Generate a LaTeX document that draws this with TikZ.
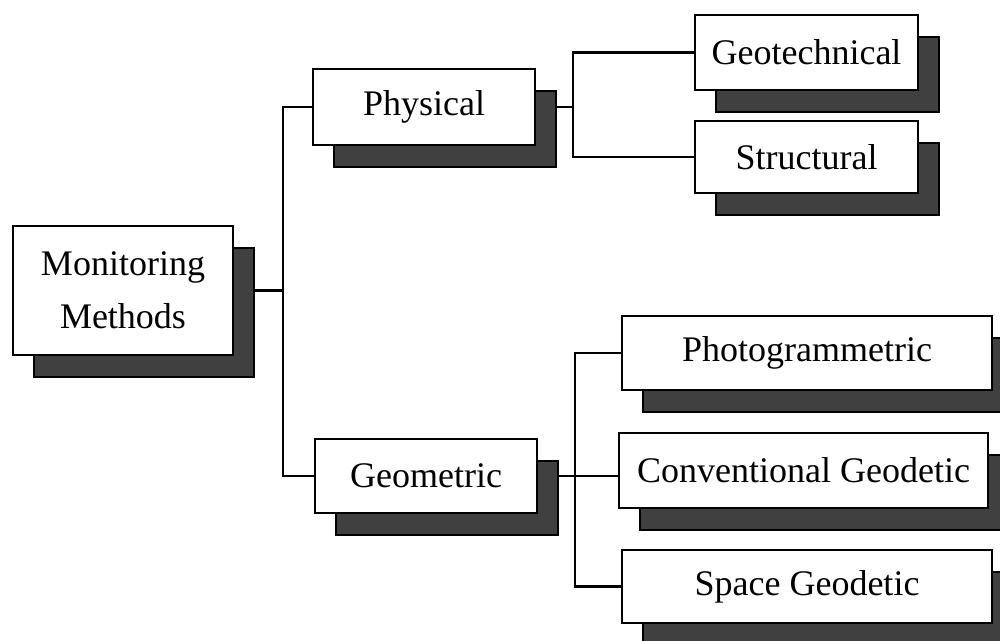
\documentclass[tikz,border=0pt]{standalone}
\usepackage{fontspec}
\setmainfont{Liberation Serif}
\usetikzlibrary{shadows,backgrounds}
\definecolor{shade}{gray}{0.25}
\tikzset{
  every picture/.style={x=0.5pt,y=-0.5pt},
  box/.style={draw=black, line width=1.2pt, fill=white, inner sep=0pt,
    font=\fontsize{18}{26.5}\selectfont, align=center,
    general shadow={fill=shade, draw=black, line width=1pt,
      shadow xshift=10.5pt, shadow yshift=-11pt}},
  link/.style={draw=black, line width=1.3pt}
}
\begin{document}
\begin{tikzpicture}
\clip (0,0) rectangle (1000,641);
\useasboundingbox (0,0) rectangle (1000,641);

% boxes (centres and sizes in drawing units)
\node[box, minimum width=110pt, minimum height=64.5pt] (mm) at (123,290.5) {Monitoring\\Methods};
\node[box, minimum width=111pt, minimum height=38pt] (phys) at (424,107) {Physical};
\node[box, minimum width=111pt, minimum height=37pt] (geom) at (426,476) {Geometric};
\node[box, minimum width=111.5pt, minimum height=37.5pt] (geot) at (806.5,52.5) {Geotechnical};
\node[box, minimum width=111.5pt, minimum height=36pt] (struc) at (806.5,157) {Structural};
\node[box, minimum width=185pt, minimum height=37pt] (photo) at (807,353) {Photogrammetric};
\node[box, minimum width=184.5pt, minimum height=37.5pt] (conv) at (803.5,470.5) {Conventional Geodetic};
\node[box, minimum width=185pt, minimum height=36.5pt] (space) at (807,586.5) {Space Geodetic};

% trunk positions of the connector trees
\coordinate (t1) at (283,0);
\coordinate (t2) at (573,0);
\coordinate (t3) at (575,0);

\begin{scope}[on background layer]
  \draw[link] (mm.east) -- (mm.east -| t1);
  \draw[link] (phys.west) -- (phys.west -| t1) |- (geom.west);

  \draw[link] (phys.east) -- (phys.east -| t2);
  \draw[link] (geot.west) -- (geot.west -| t2) |- (struc.west);

  \draw[link] (geom.east) -- (geom.east -| conv.west);
  \draw[link] (photo.west) -- (photo.west -| t3) |- (space.west);
\end{scope}
\end{tikzpicture}
\end{document}
